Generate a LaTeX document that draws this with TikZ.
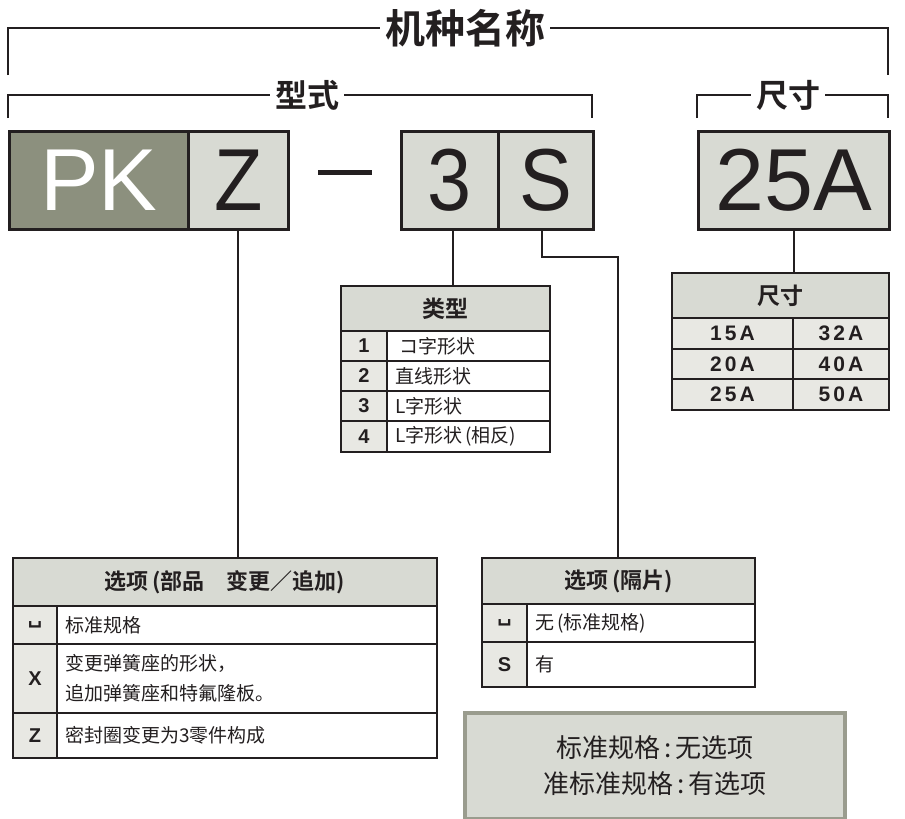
\documentclass[tikz,border=0pt]{standalone}
\usepackage{fontspec}
\setmainfont{Noto Sans CJK SC}[BoldFont={Noto Sans CJK SC Bold}]
\newfontfamily\latin{Liberation Sans}
\newfontfamily\dejavu{DejaVu Sans}
\definecolor{dark}{HTML}{8C907E}
\definecolor{light}{HTML}{D8DAD3}
\definecolor{numfill}{HTML}{E8E8E3}
\definecolor{notebd}{HTML}{9A9C8E}
\definecolor{ink}{HTML}{231F20}
\tikzset{
  bracket/.style={draw=ink, line width=1.8pt},
  btitle/.style={fill=white, inner xsep=5pt, inner ysep=0pt, text=ink},
  bigbox/.style={draw=ink, line width=2.6pt, inner sep=0pt, minimum height=98pt, anchor=north west},
  cell/.style={draw=ink, line width=2pt, inner sep=0pt, anchor=north west, text=ink},
  hd/.style={font=\bfseries\fontsize{22}{24}\selectfont},
  nm/.style={font=\latin\bfseries\fontsize{20}{22}\selectfont},
  sz/.style={font=\latin\bfseries\fontsize{21}{22}\selectfont},
  tx/.style={font=\fontsize{19}{30}\selectfont, align=left},
  stem/.style={draw=ink, line width=1.8pt},
}
\begin{document}
\begin{tikzpicture}[x=1pt,y=-1pt]
\useasboundingbox (0,0) rectangle (905,819);

% brackets
\node[btitle, font=\bfseries\fontsize{40}{42}\selectfont] (tname) at (465,28) {机种名称};
\draw[bracket] (8,75) |- (tname.west);
\draw[bracket] (tname.east) -| (888,75);
\node[btitle, font=\bfseries\fontsize{32}{34}\selectfont] (ttype) at (307,95) {型式};
\draw[bracket] (8,118) |- (ttype.west);
\draw[bracket] (ttype.east) -| (592,118);
\node[btitle, font=\bfseries\fontsize{32}{34}\selectfont] (tsize) at (788,95) {尺寸};
\draw[bracket] (697,118) |- (tsize.west);
\draw[bracket] (tsize.east) -| (888,118);

% code boxes
\node[bigbox, fill=dark, minimum width=179pt, text=white] (pk) at (8,130) {\latin\fontsize{88}{88}\selectfont PK};
\node[bigbox, fill=light, minimum width=100pt, text=ink] (bz) at (187,130) {\latin\fontsize{88}{88}\selectfont\scalebox{0.9}[1]{Z}};
\node[fill=ink, minimum width=54pt, minimum height=5pt, inner sep=0pt] (dash) at (345,172) {};
\node[bigbox, fill=light, minimum width=97pt, text=ink] (b3) at (400,130) {\latin\fontsize{88}{88}\selectfont\scalebox{0.9}[1]{3}};
\node[bigbox, fill=light, minimum width=95pt, text=ink] (bs) at (497,130) {\latin\fontsize{88}{88}\selectfont\scalebox{0.9}[1]{S}};
\node[bigbox, fill=light, minimum width=191pt, text=ink] (b25) at (697,130) {\latin\fontsize{88}{88}\selectfont 25A};

% type table
\node[cell, fill=light, minimum width=209pt, minimum height=45pt, font=\bfseries\fontsize{23}{24}\selectfont] (typehd) at (340,285) {类型};
\node[cell, fill=numfill, minimum width=46pt, minimum height=30pt, nm] (t1n) at (340,330) {1};
\node[cell, fill=white, minimum width=163pt, minimum height=30pt, text width=147pt, inner xsep=8pt, tx] (t1t) at (386,330) {\hspace{4pt}コ字形状};
\node[cell, fill=numfill, minimum width=46pt, minimum height=30pt, nm] (t2n) at (340,360) {2};
\node[cell, fill=white, minimum width=163pt, minimum height=30pt, text width=147pt, inner xsep=8pt, tx] (t2t) at (386,360) {直线形状};
\node[cell, fill=numfill, minimum width=46pt, minimum height=30pt, nm] (t3n) at (340,390) {3};
\node[cell, fill=white, minimum width=163pt, minimum height=30pt, text width=147pt, inner xsep=8pt, tx] (t3t) at (386,390) {L字形状};
\node[cell, fill=numfill, minimum width=46pt, minimum height=31pt, nm] (t4n) at (340,420) {4};
\node[cell, fill=white, minimum width=163pt, minimum height=31pt, text width=147pt, inner xsep=8pt, tx] (t4t) at (386,420) {L字形状\,(相反)};

% size table
\node[cell, fill=light, minimum width=217pt, minimum height=45pt, font=\bfseries\fontsize{23}{24}\selectfont] (sizehd) at (671,272) {尺寸};
\node[cell, fill=numfill, minimum width=121pt, minimum height=31pt, sz] (s11) at (671,317) {1\hspace{3pt}5\hspace{3pt}A};
\node[cell, fill=numfill, minimum width=96pt, minimum height=31pt, sz] (s12) at (792,317) {3\hspace{3pt}2\hspace{3pt}A};
\node[cell, fill=numfill, minimum width=121pt, minimum height=30pt, sz] (s21) at (671,348) {2\hspace{3pt}0\hspace{3pt}A};
\node[cell, fill=numfill, minimum width=96pt, minimum height=30pt, sz] (s22) at (792,348) {4\hspace{3pt}0\hspace{3pt}A};
\node[cell, fill=numfill, minimum width=121pt, minimum height=31pt, sz] (s31) at (671,378) {2\hspace{3pt}5\hspace{3pt}A};
\node[cell, fill=numfill, minimum width=96pt, minimum height=31pt, sz] (s32) at (792,378) {5\hspace{3pt}0\hspace{3pt}A};

% option table (left)
\node[cell, fill=light, minimum width=424pt, minimum height=48pt, hd] (opthd) at (12,557) {选项\,(部品\hspace{1em}变更／追加)};
\node[cell, fill=numfill, minimum width=44pt, minimum height=38pt, font=\dejavu\bfseries\fontsize{20}{22}\selectfont] (o1n) at (12,605) {␣};
\node[cell, fill=white, minimum width=380pt, minimum height=38pt, text width=364pt, inner xsep=8pt, tx] (o1t) at (56,605) {标准规格};
\node[cell, fill=numfill, minimum width=44pt, minimum height=69pt, nm] (o2n) at (12,643) {X};
\node[cell, fill=white, minimum width=380pt, minimum height=69pt, text width=364pt, inner xsep=8pt, tx] (o2t) at (56,643) {变更弹簧座的形状，\\追加弹簧座和特氟隆板。};
\node[cell, fill=numfill, minimum width=44pt, minimum height=45pt, nm] (o3n) at (12,712) {Z};
\node[cell, fill=white, minimum width=380pt, minimum height=45pt, text width=364pt, inner xsep=8pt, tx] (o3t) at (56,712) {密封圈变更为3零件构成};

% option table (right)
\node[cell, fill=light, minimum width=273pt, minimum height=46pt, hd] (sphd) at (481,557) {选项\,(隔片)};
\node[cell, fill=numfill, minimum width=45pt, minimum height=38pt, font=\dejavu\bfseries\fontsize{20}{22}\selectfont] (p1n) at (481,603) {␣};
\node[cell, fill=white, minimum width=228pt, minimum height=38pt, text width=212pt, inner xsep=8pt, tx] (p1t) at (526,603) {无\,(标准规格)};
\node[cell, fill=numfill, minimum width=45pt, minimum height=45pt, nm] (p2n) at (481,641) {S};
\node[cell, fill=white, minimum width=228pt, minimum height=45pt, text width=212pt, inner xsep=8pt, tx] (p2t) at (526,641) {有};

% note box
\node[draw=notebd, line width=4pt, fill=light, minimum width=380pt, minimum height=106pt, inner sep=0pt, anchor=north west, align=center, text=ink, font=\fontsize{26}{36}\selectfont] (note) at (463,711) {标准规格\,:\,无选项\\准标准规格\,:\,有选项};

% connectors
\draw[stem] (bz.south) -- (bz.south |- opthd.north);
\draw[stem] ([xshift=3pt]b3.south) -- ([xshift=3pt]b3.south |- typehd.north);
\draw[stem] ([xshift=-4pt]bs.south) |- (618,257) -- (618,557);
\draw[stem] (b25.south) -- (b25.south |- sizehd.north);
\end{tikzpicture}
\end{document}
